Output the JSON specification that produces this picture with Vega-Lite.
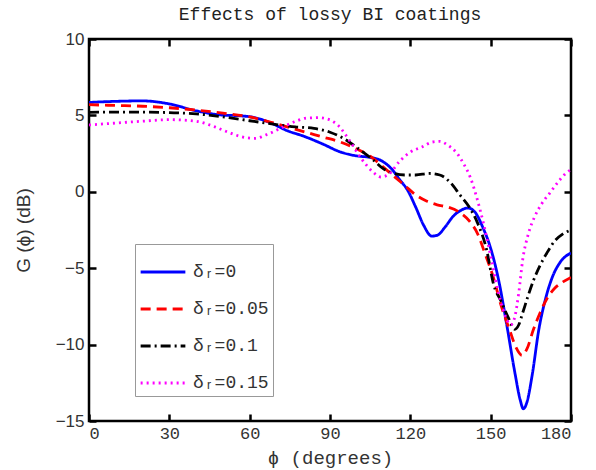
{
  "$schema": "https://vega.github.io/schema/vega-lite/v6.json",
  "width": 482,
  "height": 382,
  "autosize": {"type": "none"},
  "padding": {"left": 89, "top": 39, "right": 25, "bottom": 49},
  "background": "white",
  "title": {"text": "Effects of lossy BI coatings", "font": "Liberation Mono", "fontSize": 18, "fontWeight": "normal", "color": "#222", "offset": 6},
  "config": {
    "view": {"stroke": "black", "strokeWidth": 2.5},
    "axis": {"grid": false, "domain": false, "labelColor": "#333", "titleColor": "#333", "titleFontWeight": "normal"}
  },
  "data": {"values": [
    {"phi": 0, "G": 5.85, "s": "δᵣ=0"}, {"phi": 10, "G": 5.92, "s": "δᵣ=0"}, {"phi": 20, "G": 5.95, "s": "δᵣ=0"}, {"phi": 30, "G": 5.75, "s": "δᵣ=0"}, {"phi": 40, "G": 5.3, "s": "δᵣ=0"}, {"phi": 50, "G": 5.02, "s": "δᵣ=0"}, {"phi": 56, "G": 4.98, "s": "δᵣ=0"}, {"phi": 62, "G": 4.85, "s": "δᵣ=0"}, {"phi": 68, "G": 4.5, "s": "δᵣ=0"}, {"phi": 74, "G": 4.0, "s": "δᵣ=0"}, {"phi": 80, "G": 3.65, "s": "δᵣ=0"}, {"phi": 87, "G": 3.15, "s": "δᵣ=0"}, {"phi": 94, "G": 2.6, "s": "δᵣ=0"}, {"phi": 100, "G": 2.35, "s": "δᵣ=0"}, {"phi": 105, "G": 2.25, "s": "δᵣ=0"}, {"phi": 109, "G": 2.05, "s": "δᵣ=0"}, {"phi": 113, "G": 1.5, "s": "δᵣ=0"}, {"phi": 116, "G": 0.8, "s": "δᵣ=0"}, {"phi": 119, "G": 0.1, "s": "δᵣ=0"}, {"phi": 122, "G": -1.0, "s": "δᵣ=0"}, {"phi": 125, "G": -2.2, "s": "δᵣ=0"}, {"phi": 128, "G": -2.9, "s": "δᵣ=0"}, {"phi": 130, "G": -2.85, "s": "δᵣ=0"}, {"phi": 133, "G": -2.3, "s": "δᵣ=0"}, {"phi": 136, "G": -1.6, "s": "δᵣ=0"}, {"phi": 139, "G": -1.2, "s": "δᵣ=0"}, {"phi": 141.5, "G": -1.06, "s": "δᵣ=0"}, {"phi": 144, "G": -1.3, "s": "δᵣ=0"}, {"phi": 147, "G": -2.3, "s": "δᵣ=0"}, {"phi": 150, "G": -3.7, "s": "δᵣ=0"}, {"phi": 153, "G": -5.8, "s": "δᵣ=0"}, {"phi": 156, "G": -8.7, "s": "δᵣ=0"}, {"phi": 159, "G": -11.8, "s": "δᵣ=0"}, {"phi": 161, "G": -13.6, "s": "δᵣ=0"}, {"phi": 162.2, "G": -14.2, "s": "δᵣ=0"}, {"phi": 163.5, "G": -13.8, "s": "δᵣ=0"}, {"phi": 165.5, "G": -12.0, "s": "δᵣ=0"}, {"phi": 168, "G": -9.0, "s": "δᵣ=0"}, {"phi": 170.5, "G": -7.0, "s": "δᵣ=0"}, {"phi": 173, "G": -5.6, "s": "δᵣ=0"}, {"phi": 176, "G": -4.6, "s": "δᵣ=0"}, {"phi": 180, "G": -4.0, "s": "δᵣ=0"},
    {"phi": 0, "G": 5.7, "s": "δᵣ=0.05"}, {"phi": 10, "G": 5.65, "s": "δᵣ=0.05"}, {"phi": 20, "G": 5.6, "s": "δᵣ=0.05"}, {"phi": 30, "G": 5.5, "s": "δᵣ=0.05"}, {"phi": 40, "G": 5.35, "s": "δᵣ=0.05"}, {"phi": 50, "G": 5.15, "s": "δᵣ=0.05"}, {"phi": 60, "G": 4.9, "s": "δᵣ=0.05"}, {"phi": 68, "G": 4.55, "s": "δᵣ=0.05"}, {"phi": 74, "G": 4.25, "s": "δᵣ=0.05"}, {"phi": 81, "G": 3.9, "s": "δᵣ=0.05"}, {"phi": 87, "G": 3.6, "s": "δᵣ=0.05"}, {"phi": 94, "G": 3.25, "s": "δᵣ=0.05"}, {"phi": 100, "G": 2.8, "s": "δᵣ=0.05"}, {"phi": 106, "G": 2.2, "s": "δᵣ=0.05"}, {"phi": 110, "G": 1.6, "s": "δᵣ=0.05"}, {"phi": 114, "G": 1.0, "s": "δᵣ=0.05"}, {"phi": 118, "G": 0.4, "s": "δᵣ=0.05"}, {"phi": 122, "G": -0.2, "s": "δᵣ=0.05"}, {"phi": 126, "G": -0.6, "s": "δᵣ=0.05"}, {"phi": 130, "G": -0.85, "s": "δᵣ=0.05"}, {"phi": 134, "G": -1.0, "s": "δᵣ=0.05"}, {"phi": 138, "G": -1.3, "s": "δᵣ=0.05"}, {"phi": 142, "G": -1.9, "s": "δᵣ=0.05"}, {"phi": 145, "G": -2.7, "s": "δᵣ=0.05"}, {"phi": 148, "G": -4.1, "s": "δᵣ=0.05"}, {"phi": 151, "G": -5.6, "s": "δᵣ=0.05"}, {"phi": 154, "G": -7.5, "s": "δᵣ=0.05"}, {"phi": 157, "G": -9.0, "s": "δᵣ=0.05"}, {"phi": 159.5, "G": -10.2, "s": "δᵣ=0.05"}, {"phi": 161.7, "G": -10.7, "s": "δᵣ=0.05"}, {"phi": 163.5, "G": -10.3, "s": "δᵣ=0.05"}, {"phi": 166, "G": -9.0, "s": "δᵣ=0.05"}, {"phi": 168.5, "G": -7.9, "s": "δᵣ=0.05"}, {"phi": 171, "G": -7.0, "s": "δᵣ=0.05"}, {"phi": 174, "G": -6.3, "s": "δᵣ=0.05"}, {"phi": 177, "G": -5.9, "s": "δᵣ=0.05"}, {"phi": 180, "G": -5.6, "s": "δᵣ=0.05"},
    {"phi": 0, "G": 5.2, "s": "δᵣ=0.1"}, {"phi": 10, "G": 5.22, "s": "δᵣ=0.1"}, {"phi": 20, "G": 5.22, "s": "δᵣ=0.1"}, {"phi": 30, "G": 5.18, "s": "δᵣ=0.1"}, {"phi": 40, "G": 5.1, "s": "δᵣ=0.1"}, {"phi": 50, "G": 4.9, "s": "δᵣ=0.1"}, {"phi": 60, "G": 4.65, "s": "δᵣ=0.1"}, {"phi": 70, "G": 4.4, "s": "δᵣ=0.1"}, {"phi": 77, "G": 4.25, "s": "δᵣ=0.1"}, {"phi": 84, "G": 4.15, "s": "δᵣ=0.1"}, {"phi": 90, "G": 3.9, "s": "δᵣ=0.1"}, {"phi": 95, "G": 3.5, "s": "δᵣ=0.1"}, {"phi": 100, "G": 2.9, "s": "δᵣ=0.1"}, {"phi": 106, "G": 2.1, "s": "δᵣ=0.1"}, {"phi": 110, "G": 1.5, "s": "δᵣ=0.1"}, {"phi": 114, "G": 1.2, "s": "δᵣ=0.1"}, {"phi": 118, "G": 1.1, "s": "δᵣ=0.1"}, {"phi": 122, "G": 1.1, "s": "δᵣ=0.1"}, {"phi": 127, "G": 1.2, "s": "δᵣ=0.1"}, {"phi": 131, "G": 1.1, "s": "δᵣ=0.1"}, {"phi": 135, "G": 0.6, "s": "δᵣ=0.1"}, {"phi": 138.5, "G": -0.2, "s": "δᵣ=0.1"}, {"phi": 142, "G": -1.0, "s": "δᵣ=0.1"}, {"phi": 145, "G": -2.0, "s": "δᵣ=0.1"}, {"phi": 148.5, "G": -3.8, "s": "δᵣ=0.1"}, {"phi": 151, "G": -6.0, "s": "δᵣ=0.1"}, {"phi": 154, "G": -7.2, "s": "δᵣ=0.1"}, {"phi": 156.5, "G": -8.2, "s": "δᵣ=0.1"}, {"phi": 159, "G": -9.0, "s": "δᵣ=0.1"}, {"phi": 160.5, "G": -8.7, "s": "δᵣ=0.1"}, {"phi": 162, "G": -7.9, "s": "δᵣ=0.1"}, {"phi": 164, "G": -6.8, "s": "δᵣ=0.1"}, {"phi": 166, "G": -5.8, "s": "δᵣ=0.1"}, {"phi": 168.5, "G": -4.8, "s": "δᵣ=0.1"}, {"phi": 171, "G": -4.0, "s": "δᵣ=0.1"}, {"phi": 174, "G": -3.2, "s": "δᵣ=0.1"}, {"phi": 177, "G": -2.75, "s": "δᵣ=0.1"}, {"phi": 180, "G": -2.5, "s": "δᵣ=0.1"},
    {"phi": 0, "G": 4.37, "s": "δᵣ=0.15"}, {"phi": 10, "G": 4.5, "s": "δᵣ=0.15"}, {"phi": 20, "G": 4.62, "s": "δᵣ=0.15"}, {"phi": 30, "G": 4.72, "s": "δᵣ=0.15"}, {"phi": 40, "G": 4.62, "s": "δᵣ=0.15"}, {"phi": 47, "G": 4.25, "s": "δᵣ=0.15"}, {"phi": 52, "G": 3.9, "s": "δᵣ=0.15"}, {"phi": 57, "G": 3.6, "s": "δᵣ=0.15"}, {"phi": 62, "G": 3.5, "s": "δᵣ=0.15"}, {"phi": 66.5, "G": 3.75, "s": "δᵣ=0.15"}, {"phi": 72, "G": 4.2, "s": "δᵣ=0.15"}, {"phi": 77, "G": 4.6, "s": "δᵣ=0.15"}, {"phi": 81.5, "G": 4.83, "s": "δᵣ=0.15"}, {"phi": 86, "G": 4.85, "s": "δᵣ=0.15"}, {"phi": 90, "G": 4.7, "s": "δᵣ=0.15"}, {"phi": 93, "G": 4.35, "s": "δᵣ=0.15"}, {"phi": 97.5, "G": 3.3, "s": "δᵣ=0.15"}, {"phi": 102, "G": 2.1, "s": "δᵣ=0.15"}, {"phi": 106, "G": 1.3, "s": "δᵣ=0.15"}, {"phi": 109, "G": 0.97, "s": "δᵣ=0.15"}, {"phi": 112, "G": 1.15, "s": "δᵣ=0.15"}, {"phi": 116, "G": 2.0, "s": "δᵣ=0.15"}, {"phi": 120, "G": 2.6, "s": "δᵣ=0.15"}, {"phi": 124.5, "G": 2.95, "s": "δᵣ=0.15"}, {"phi": 128, "G": 3.25, "s": "δᵣ=0.15"}, {"phi": 131, "G": 3.3, "s": "δᵣ=0.15"}, {"phi": 134, "G": 3.05, "s": "δᵣ=0.15"}, {"phi": 137.5, "G": 2.5, "s": "δᵣ=0.15"}, {"phi": 140, "G": 1.8, "s": "δᵣ=0.15"}, {"phi": 142.5, "G": 0.9, "s": "δᵣ=0.15"}, {"phi": 145, "G": -0.5, "s": "δᵣ=0.15"}, {"phi": 147.5, "G": -2.2, "s": "δᵣ=0.15"}, {"phi": 150, "G": -4.2, "s": "δᵣ=0.15"}, {"phi": 152.5, "G": -6.3, "s": "δᵣ=0.15"}, {"phi": 155, "G": -7.9, "s": "δᵣ=0.15"}, {"phi": 157.5, "G": -8.7, "s": "δᵣ=0.15"}, {"phi": 159, "G": -8.2, "s": "δᵣ=0.15"}, {"phi": 160.5, "G": -6.6, "s": "δᵣ=0.15"}, {"phi": 162, "G": -4.4, "s": "δᵣ=0.15"}, {"phi": 164, "G": -2.8, "s": "δᵣ=0.15"}, {"phi": 166.5, "G": -1.6, "s": "δᵣ=0.15"}, {"phi": 169, "G": -0.8, "s": "δᵣ=0.15"}, {"phi": 172, "G": -0.1, "s": "δᵣ=0.15"}, {"phi": 175, "G": 0.6, "s": "δᵣ=0.15"}, {"phi": 178, "G": 1.2, "s": "δᵣ=0.15"}, {"phi": 180, "G": 1.45, "s": "δᵣ=0.15"}
  ]},
  "resolve": {"axis": {"x": "independent", "y": "independent"}},
  "layer": [
    {
      "mark": {"type": "line", "opacity": 0},
      "encoding": {
        "x": {"field": "phi", "type": "quantitative", "scale": {"domain": [0, 180], "nice": false}, "axis": {"orient": "top", "values": [0, 30, 60, 90, 120, 150, 180], "labels": false, "title": null, "ticks": true, "tickSize": 7, "offset": -7, "tickColor": "#000000", "tickWidth": 2.5}},
        "y": {"field": "G", "type": "quantitative", "scale": {"domain": [-15, 10], "nice": false, "zero": false}, "axis": {"orient": "right", "values": [-15, -10, -5, 0, 5, 10], "labels": false, "title": null, "ticks": true, "tickSize": 7, "offset": -7, "tickColor": "#000000", "tickWidth": 2.5}},
        "detail": {"field": "s"}
      }
    },
    {
      "mark": {"type": "line", "interpolate": "monotone", "strokeWidth": 2.8, "clip": true},
      "encoding": {
        "x": {"field": "phi", "type": "quantitative", "scale": {"domain": [0, 180], "nice": false},
          "axis": {"orient": "bottom", "values": [0, 30, 60, 90, 120, 150, 180], "ticks": true, "tickSize": 7, "offset": -7, "tickColor": "#000000", "tickWidth": 2.5, "title": "ϕ (degrees)", "labelFont": "Liberation Mono", "labelFontSize": 17, "labelPadding": 4, "titleFont": "Liberation Mono", "titleFontSize": 19, "titlePadding": 7}},
        "y": {"field": "G", "type": "quantitative", "scale": {"domain": [-15, 10], "nice": false, "zero": false},
          "axis": {"orient": "left", "values": [-15, -10, -5, 0, 5, 10], "ticks": true, "tickSize": 7, "offset": -7, "tickColor": "#000000", "tickWidth": 2.5, "title": "G (ϕ) (dB)", "labelFont": "Liberation Sans", "labelFontSize": 17, "labelPadding": 5, "titleFont": "Liberation Sans", "titleFontSize": 19, "titlePadding": 22}},
        "color": {"field": "s", "type": "nominal", "title": null,
          "scale": {"domain": ["δᵣ=0", "δᵣ=0.05", "δᵣ=0.1", "δᵣ=0.15"], "range": ["#0000ff", "#ff0000", "#000000", "#ff00ff"]},
          "legend": {"orient": "none", "legendX": 46, "legendY": 205, "padding": 4, "fillColor": "white", "strokeColor": "#999", "labelFont": "Liberation Mono", "labelFontSize": 18, "labelColor": "#333", "symbolType": "stroke", "symbolSize": 2000, "symbolStrokeWidth": 3, "rowPadding": 4, "labelOffset": 6}},
        "strokeDash": {"field": "s", "type": "nominal", "title": null,
          "scale": {"domain": ["δᵣ=0", "δᵣ=0.05", "δᵣ=0.1", "δᵣ=0.15"], "range": [[1, 0], [10, 6], [10, 4, 2, 4], [2, 4]]}}
      }
    }
  ]
}
